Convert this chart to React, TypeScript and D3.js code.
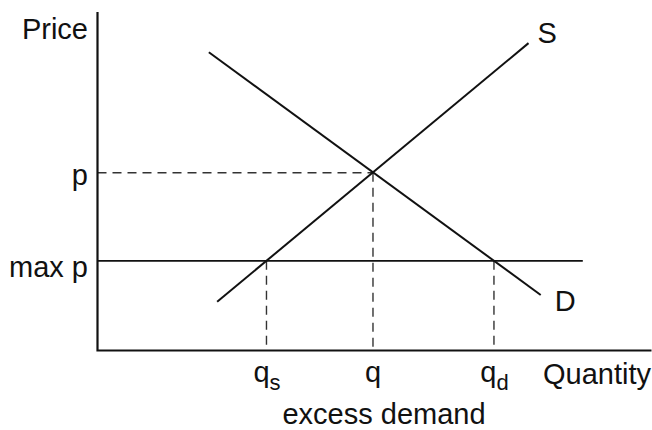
import React, { useEffect, useRef } from 'react';
import * as d3 from 'd3';

// curve endpoints in chart units (quantity 0-100, price 0-100)
const supplyLine: [number, number][] = [[21.6, 14.4], [77.8, 90.8]];
const demandLine: [number, number][] = [[20.1, 88.1], [80.0, 16.4]];
const priceLevels = [
  { name: 'p', value: 52.5 },
  { name: 'max p', value: 26.5 },
];
const ceilingEnd = 87.6;
const quantityLabels = [
  { base: 'q', sub: 's' },
  { base: 'q', sub: '' },
  { base: 'q', sub: 'd' },
];

const width = 652;
const height = 430;
const font = '"Liberation Sans", Arial, sans-serif';

// x where a segment crosses price level y
const xAt = (line: [number, number][], y: number) => {
  const [[x0, y0], [x1, y1]] = line;
  return x0 + ((y - y0) * (x1 - x0)) / (y1 - y0);
};

const App: React.FC = () => {
  const svgRef = useRef<SVGSVGElement>(null);

  useEffect(() => {
    if (!svgRef.current) return;
    const svg = d3.select(svgRef.current);
    svg.selectAll('*').remove();

    const x = d3.scaleLinear().domain([0, 100]).range([97.5, 651.5]);
    const y = d3.scaleLinear().domain([0, 100]).range([350.5, 12]);
    const line = d3.line<[number, number]>().x(d => x(d[0])).y(d => y(d[1]));

    // equilibrium and ceiling crossings
    const [sA, sB] = supplyLine;
    const [dA, dB] = demandLine;
    const ms = (sB[1] - sA[1]) / (sB[0] - sA[0]);
    const md = (dB[1] - dA[1]) / (dB[0] - dA[0]);
    const qEq = (dA[1] - sA[1] + ms * sA[0] - md * dA[0]) / (ms - md);
    const pEq = priceLevels[0].value;
    const maxP = priceLevels[1].value;
    const qs = xAt(supplyLine, maxP);
    const qd = xAt(demandLine, maxP);
    const qValues = [qs, qEq, qd];

    const g = svg.append('g');

    // dashed guides
    const dashed = (pts: [number, number][]) =>
      g.append('path')
        .attr('d', line(pts))
        .attr('fill', 'none')
        .attr('stroke', '#333')
        .attr('stroke-width', 1.4)
        .attr('stroke-dasharray', '9,6');
    dashed([[0, pEq], [qEq, pEq]]);
    dashed([[qEq, pEq], [qEq, 0]]);
    dashed([[qs, maxP], [qs, 0]]);
    dashed([[qd, maxP], [qd, 0]]);

    // price ceiling
    g.append('path')
      .attr('d', line([[0, maxP], [ceilingEnd, maxP]]))
      .attr('stroke', '#111')
      .attr('stroke-width', 1.8);

    // supply and demand
    [supplyLine, demandLine].forEach(l => {
      g.append('path')
        .attr('d', line(l))
        .attr('fill', 'none')
        .attr('stroke', '#111')
        .attr('stroke-width', 2);
    });

    // axes
    g.append('path')
      .attr('d', line([[0, 100], [0, 0], [100, 0]]))
      .attr('fill', 'none')
      .attr('stroke', '#111')
      .attr('stroke-width', 2.2);

    const text = (t: string, px: number, py: number, anchor = 'start') =>
      g.append('text')
        .attr('x', px)
        .attr('y', py)
        .attr('text-anchor', anchor)
        .style('font-family', font)
        .style('font-size', '29px')
        .attr('fill', '#111')
        .text(t);

    text('Price', 88, 39, 'end');
    text('Quantity', 543, 384);
    text('excess demand', 384, 424, 'middle');
    text('S', x(sB[0]) + 9, 43);
    text('D', x(dB[0]) + 14, 311);

    // price labels
    const yOffsets = [12, 16];
    priceLevels.forEach((d, i) => text(d.name, 88, y(d.value) + yOffsets[i], 'end'));

    // quantity labels with subscripts
    quantityLabels.forEach((d, i) => {
      const t = g.append('text')
        .attr('x', x(qValues[i]) + (d.sub ? 0.5 : 0))
        .attr('y', 382)
        .attr('text-anchor', 'middle')
        .style('font-family', font)
        .style('font-size', '29px')
        .attr('fill', '#111');
      t.append('tspan').text(d.base);
      if (d.sub) {
        t.append('tspan')
          .attr('dy', 8)
          .style('font-size', '22px')
          .text(d.sub);
      }
    });
  }, []);

  return (
    <svg
      ref={svgRef}
      width={width}
      height={height}
      viewBox={`0 0 ${width} ${height}`}
      style={{ position: 'absolute', left: 0, top: 0, background: '#fff' }}
    ></svg>
  );
};

export default App;
